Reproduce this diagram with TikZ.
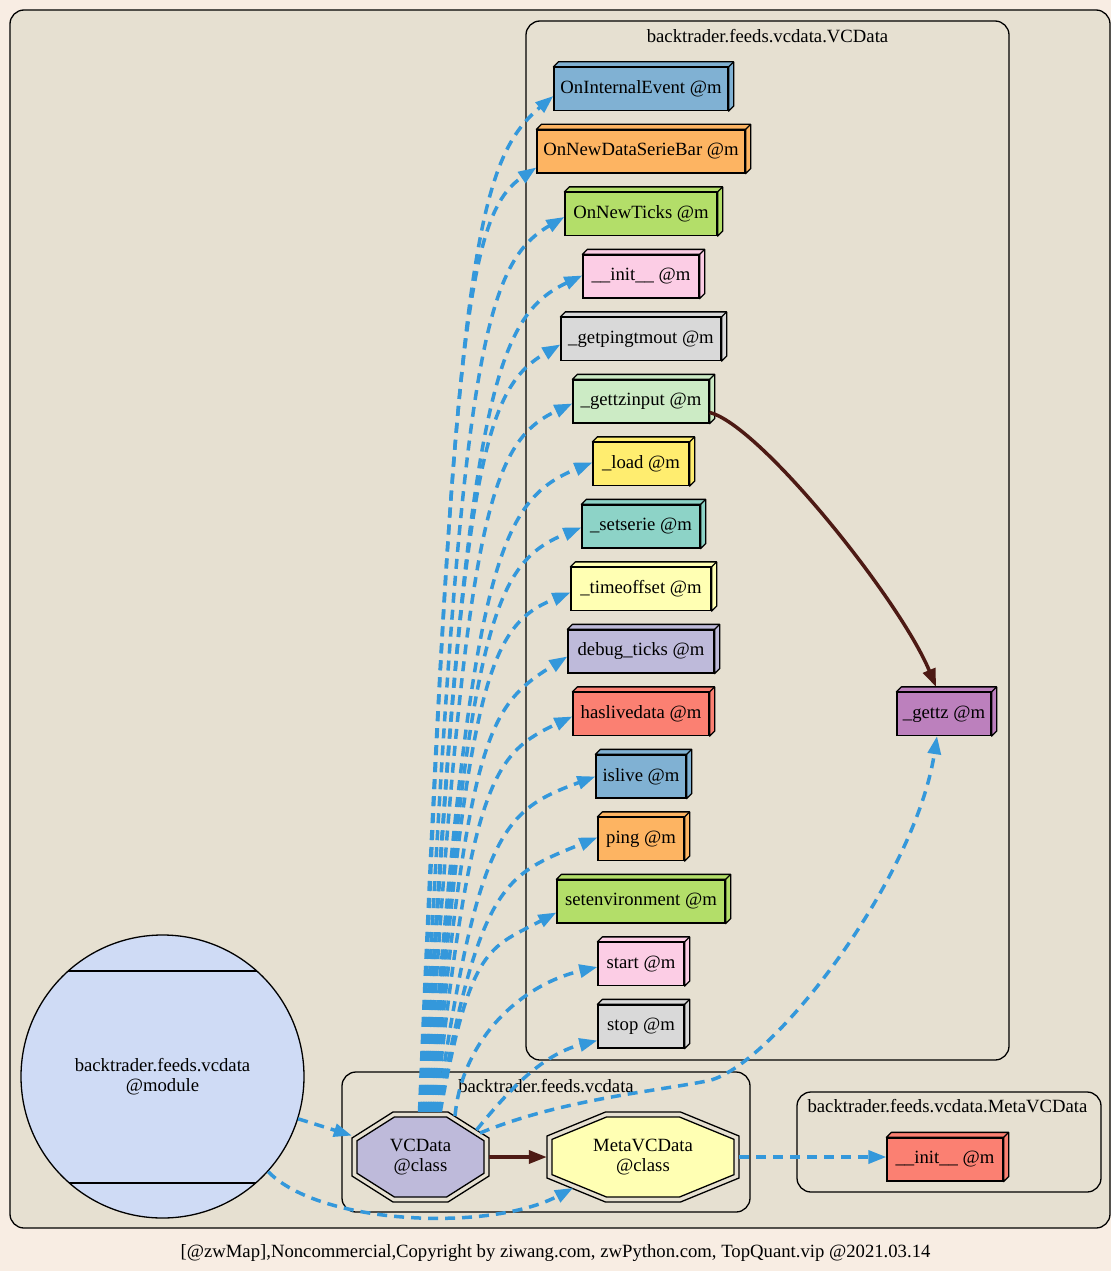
\documentclass[tikz,border=0pt]{standalone}
\usepackage{fontspec}
\setmainfont{Liberation Serif}
\usetikzlibrary{arrows.meta,calc}
\definecolor{cpage}{HTML}{F8EDE3}
\definecolor{cclus}{HTML}{E6E0D1}
\definecolor{cblue}{HTML}{3498DB}
\definecolor{cbrown}{HTML}{4D1A14}
\definecolor{cmod}{HTML}{CFDBF5}
\definecolor{cA}{HTML}{80B1D3}
\definecolor{cB}{HTML}{FDB462}
\definecolor{cC}{HTML}{B3DE69}
\definecolor{cD}{HTML}{FCCDE5}
\definecolor{cE}{HTML}{D9D9D9}
\definecolor{cF}{HTML}{CCEBC5}
\definecolor{cG}{HTML}{FFED6F}
\definecolor{cH}{HTML}{8DD3C7}
\definecolor{cI}{HTML}{FFFFB3}
\definecolor{cJ}{HTML}{BEBADA}
\definecolor{cK}{HTML}{FB8072}
\definecolor{cL}{HTML}{BC80BD}
\newcommand\mfont{\fontsize{18.7}{20}\selectfont}
% octagon: cx, cy, half width a, half height b, half top flat c, half side d, style
\newcommand\octo[7]{\draw[#7] ({#1-#5},{#2-#4}) -- ({#1+#5},{#2-#4}) -- ({#1+#3},{#2-#6}) -- ({#1+#3},{#2+#6}) -- ({#1+#5},{#2+#4}) -- ({#1-#5},{#2+#4}) -- ({#1-#3},{#2+#6}) -- ({#1-#3},{#2-#6}) -- cycle;}
\newcommand\threed[2]{\filldraw[fill=#2, draw=black, line width=1.3pt, line join=round] (#1.north west) -- ([xshift=5pt,yshift=5pt]#1.north west) -- ([xshift=5pt,yshift=5pt]#1.north east) -- ([xshift=5pt,yshift=5pt]#1.south east) -- (#1.south east) -- (#1.north east) -- cycle; \draw[line width=1.3pt] (#1.north east) -- ([xshift=5pt,yshift=5pt]#1.north east);}
\begin{document}
\begin{tikzpicture}[x=1pt,y=-1pt,
  clus/.style={draw=black, line width=1.3pt, fill=cclus, rounded corners=14pt},
  lbl/.style={font=\mfont, inner sep=0pt},
  mbox/.style={draw=black, line width=1.3pt, minimum height=43pt, inner sep=0pt, font=\mfont},
  oct/.style={draw=black, line width=1.3pt},
  dep/.style={draw=cblue, line width=3.5pt, dash pattern=on 10pt off 7pt, -{Triangle[length=18pt,width=13pt]}},
  call/.style={draw=cbrown, line width=3.5pt, -{Triangle[length=18pt,width=13pt]}}]
\fill[cpage] (0,0) rectangle (1111,1271);
\useasboundingbox (0,0) rectangle (1111,1271);
% clusters
\draw[clus] (10,10) rectangle (1110,1228);
\draw[clus] (526,21) rectangle (1009,1060);
\draw[clus] (342,1072) rectangle (750,1212);
\draw[clus] (797,1092) rectangle (1101,1192);
\node[lbl] (lvc) at (767.5,36) {backtrader.feeds.vcdata.VCData};
\node[lbl] (lmod) at (546,1086) {backtrader.feeds.vcdata};
\node[lbl] (lmeta) at (947.5,1106) {backtrader.feeds.vcdata.MetaVCData};
% module
\node[circle, draw=black, fill=cmod, line width=1.3pt, minimum size=283pt, inner sep=0pt, align=center, font=\mfont] (mod) at (162.5,1076.5) {backtrader.feeds.vcdata\\@module};
\draw[line width=1.3pt] ([shift={(-94.3,-105.5)}]mod.center) -- ([shift={(94.3,-105.5)}]mod.center);
\draw[line width=1.3pt] ([shift={(-93.2,106.5)}]mod.center) -- ([shift={(93.2,106.5)}]mod.center);
% class octagons
\octo{420.5}{1157}{68.5}{45}{27.5}{19}{oct}
\octo{420.5}{1157}{63.5}{40}{26.1}{16.25}{oct,fill=cJ}
\octo{643}{1157}{96}{45}{37.5}{21}{oct}
\octo{643}{1157}{91}{40}{36.5}{17.65}{oct,fill=cI}
\node[minimum width=137pt, minimum height=90pt, inner sep=0pt, align=center, font=\mfont] (vc) at (420.5,1157) {VCData\\@class};
\node[minimum width=192pt, minimum height=90pt, inner sep=0pt, align=center, font=\mfont] (meta) at (643,1157) {MetaVCData\\@class};
% method boxes
\foreach \i/\t/\w/\c in {1/OnInternalEvent @m/174/cA, 2/OnNewDataSerieBar @m/208/cB, 3/OnNewTicks @m/152/cC, 4/\_\_init\_\_ @m/116/cD, 5/\_getpingtmout @m/160/cE, 6/\_gettzinput @m/136/cF, 7/\_load @m/96/cG, 8/\_setserie @m/118/cH, 9/\_timeoffset @m/140/cI, 10/debug\_ticks @m/146/cJ, 11/haslivedata @m/136/cK, 12/islive @m/90/cA, 13/ping @m/86/cB, 14/setenvironment @m/168/cC, 15/start @m/86/cD, 16/stop @m/86/cE}{
  \node[mbox, fill=\c, minimum width=\w pt] (m\i) at (641,{89+(\i-1)*62.5}) {\t};
  \threed{m\i}{\c}
}
\node[mbox, fill=cL, minimum width=94pt] (gettz) at (944,714) {\_gettz @m};
\threed{gettz}{cL}
\node[mbox, fill=cK, minimum width=116pt] (minit) at (945,1159.5) {\_\_init\_\_ @m};
\threed{minit}{cK}
% fan of edges from VCData
\foreach \i/\li/\yc/\dy/\th in {1/554/89/7/40, 2/537/151.5/16/34, 3/565/214/3/30, 4/583/276.5/-1/25, 5/561/339/5.5/30, 6/573/401.5/2/25, 7/593/464/-1.5/22, 8/582/526.5/1/22, 9/571/589/3.5/22, 10/568/651.5/5/32, 11/573/714/2.5/25, 12/596/776.5/0/20, 13/598/839/-1.5/22, 14/557/901.5/11/28}{
  \pgfmathsetmacro\xs{419.5+(\i-1)*1.6}
  \pgfmathsetmacro\dx{\xs-420.5}
  \pgfmathsetmacro\ye{\yc+\dy}
  \pgfmathsetmacro\L{\li-\xs}
  \pgfmathsetmacro\pax{\xs+0.26*\L}
  \pgfmathsetmacro\pay{\ye+0.16*(1112-\ye)}
  \pgfmathsetmacro\pbx{\li-0.58*\L}
  \pgfmathsetmacro\pby{\ye+0.58*\L*tan(\th)}
  \draw[dep] ([xshift=\dx pt]vc.north) .. controls (\pax,\pay) and (\pbx,\pby) .. ([yshift=-\dy pt]m\i.west);
}
\draw[dep] ([shift={(34.5,-41)}]vc.center) .. controls (462,1040) and (520,985) .. ([yshift=-3pt]m15.west);
\draw[dep] ([shift={(56,-27)}]vc.center) .. controls (505,1095) and (540,1055) .. ([yshift=-14pt]m16.west);
\draw[dep] ([shift={(59.5,-24)}]vc.center) .. controls (560,1100) and (650,1092) .. (707,1081) .. controls (770,1069) and (915,880) .. ([xshift=-7pt]gettz.south);
% other edges
\draw[call] (vc.east) -- (meta.west);
\draw[call] ([yshift=-11pt]m6.east) .. controls (760,425) and (900,600) .. ([xshift=-8pt,yshift=5pt]gettz.north);
\draw[dep] (meta.east) -- (meta.east -| minit.west);
\draw[dep] (mod) -- (vc);
\draw[dep] (mod.-42.4) .. controls (320,1225) and (490,1232) .. ([shift={(-70,31)}]meta.center);
% footer
\node[lbl] (foot) at (555.5,1253) {[@zwMap],Noncommercial,Copyright by ziwang.com, zwPython.com, TopQuant.vip @2021.03.14};
\end{tikzpicture}
\end{document}
